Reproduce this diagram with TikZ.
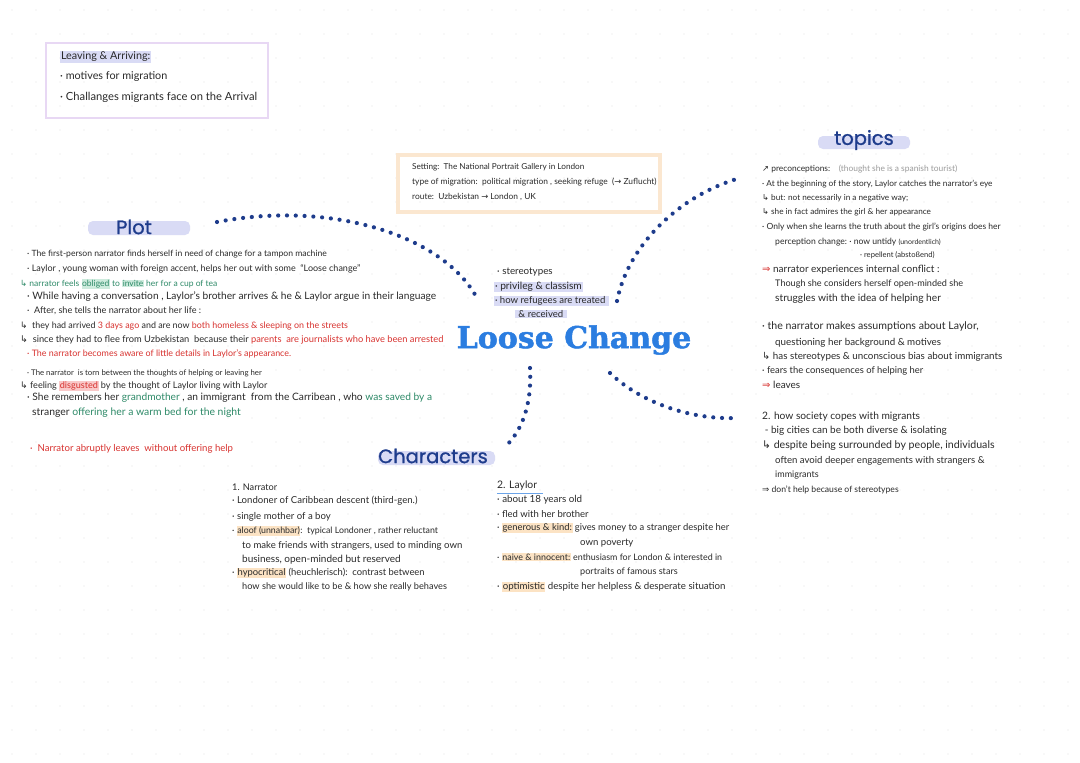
\documentclass[tikz,border=0pt]{standalone}
\usepackage{fontspec}
\setmainfont{Lato}
\newfontfamily\titlefont[FakeBold=1.6]{DejaVu Serif}
\newfontfamily\headfont[FakeBold=1]{Poppins}
\newfontfamily\symfont{DejaVu Sans}
\definecolor{ink}{HTML}{2A2A2A}
\definecolor{navy}{HTML}{1E3C8C}
\definecolor{titleblue}{HTML}{2B7DE0}
\definecolor{lav}{HTML}{D9DBF5}
\definecolor{lavbox}{HTML}{E8D8F4}
\definecolor{beige}{HTML}{FBE7D0}
\definecolor{hlorange}{HTML}{FCE3C4}
\definecolor{grn}{HTML}{2E8A68}
\definecolor{hlgreen}{HTML}{CDEBDD}
\definecolor{rd}{HTML}{D8322F}
\definecolor{hlred}{HTML}{F9C9C9}
\definecolor{gry}{HTML}{9A9A9A}
\newcommand\fs[1]{\fontsize{#1}{#1}\selectfont}
\newcommand\hk{{\symfont\char"21B3}}
\newcommand\dra{{\symfont\char"21D2}}
\newcommand\sra{{\symfont\char"2192}}
\newcommand\nea{{\symfont\char"2197}}
\newcommand\hlo[1]{{\setlength{\fboxsep}{0.6pt}\colorbox{hlorange}{#1}}}
\newcommand\hll[1]{{\setlength{\fboxsep}{0.8pt}\colorbox{lav}{#1}}}
\newcommand\hlg[1]{{\setlength{\fboxsep}{0.6pt}\colorbox{hlgreen}{#1}}}
\newcommand\hlr[1]{{\setlength{\fboxsep}{0.6pt}\colorbox{hlred}{#1}}}
\begin{document}
\begin{tikzpicture}[x=1pt,y=-1pt,
  txt/.style={anchor=west,inner sep=0pt,font=\fs{9},text=ink},
  head/.style={inner sep=0pt,font=\headfont\fontsize{19.5}{20}\selectfont,text=navy},
  bar/.style={fill=lav,rounded corners=5pt,draw=none},
  dots/.style={draw=navy,line width=4.2pt,line cap=round,dash pattern=on 0pt off 8.8pt}]
\useasboundingbox[fill=white] (0,0) rectangle (1080,763);
% faint dot grid
\foreach \i in {0,...,44}{\foreach \j in {0,...,31}{
  \fill[gray!22] (12+\i*24,10+\j*24) circle (0.6);}}
% ---- top-left box
\draw[lavbox,line width=2.4pt] (46,43) rectangle (268,118);
\node[txt,font=\fs{10.8}] (la) at (60,57) {\hll{Leaving \& Arriving:}};
\node[txt,font=\fs{10.8}] (lb) at (60,77) {\textperiodcentered\ motives for migration};
\node[txt,font=\fs{11.2}] (lc) at (60,97) {\textperiodcentered\ Challanges migrants face on the Arrival};
% ---- setting box
\draw[beige,line width=3.5pt] (398,155) rectangle (660,212);
\node[txt,font=\fs{8.2}] (sa) at (412,167) {Setting:\ \ The National Portrait Gallery in London};
\node[txt,font=\fs{8.4}] (sb) at (412,182) {type of migration:\ \ political migration , seeking refuge\ \ (\sra\ Zuflucht)};
\node[txt,font=\fs{8.4}] (sc) at (412,197) {route:\ \ Uzbekistan \sra\ London , UK};
% ---- title
\node[inner sep=0pt,font=\titlefont\bfseries\fontsize{30}{31}\selectfont,text=titleblue] (title) at (574,340) {Loose Change};
% ---- center list
\node[txt,font=\fs{9.8}] (ca) at (497,272) {\textperiodcentered\ stereotypes};
\node[txt,font=\fs{10.2}] (cb) at (494,287) {\hll{\textperiodcentered\ privileg \& classism}};
\node[txt,font=\fs{9.6}] (cc) at (494,301) {\hll{\textperiodcentered\ how refugees are treated\ }};
\node[txt,font=\fs{9.6}] (cd) at (515,314) {\hll{\ \& received\ }};
% ---- headings
\fill[bar] (88,221) rectangle (190,235);
\node[head] (plot) at (134,227) {Plot};
\fill[bar] (818,136) rectangle (910,149);
\node[head] (topics) at (864,140) {topics};
\fill[bar] (378,451) rectangle (495,465);
\node[head] (chars) at (433,456) {Characters};
% ---- connectors
\coordinate (p1) at (217,222);
\coordinate (p2) at (478,300);
\coordinate (t1) at (617,301);
\coordinate (t2) at (740,178);
\coordinate (c1) at (530,368);
\coordinate (c2) at (506,446);
\coordinate (r1) at (610,373);
\coordinate (r2) at (737,418);
\draw[dots] (p1) .. controls (330,200) and (445,235) .. (p2);
\draw[dots] (t1) .. controls (628,245) and (680,195) .. (t2);
\draw[dots] (c1) .. controls (532,405) and (522,430) .. (c2);
\draw[dots] (r1) .. controls (640,402) and (690,420) .. (r2);
% ---- plot text
\node[txt,font=\fs{8.6}] (pa) at (27,254) {\textperiodcentered\ The first-person narrator finds herself in need of change for a tampon machine};
\node[txt,font=\fs{9}] (pb) at (27,269) {\textperiodcentered\ Laylor\ , young woman with foreign accent, helps her out with some \ \textquotedblleft Loose change\textquotedblright};
\node[txt,font=\fs{8.5},text=grn] (pc) at (20,284) {\hk\ narrator feels \hlg{obliged} to \hlg{invite} her for a cup of tea};
\node[txt,font=\fs{10.2}] (pd) at (27,297) {\textperiodcentered\ While having a conversation , Laylor's brother arrives \& he \& Laylor argue in their language};
\node[txt,font=\fs{9.1}] (pe) at (27,311) {\textperiodcentered\ \ After, she tells the narrator about her life :};
\node[txt,font=\fs{8.9}] (pf) at (20,326) {\hk\ \ they had arrived \textcolor{rd}{3 days ago} and are now \textcolor{rd}{both homeless \& sleeping on the streets}};
\node[txt,font=\fs{9.3}] (pg) at (20,340) {\hk\ \ since they had to flee from Uzbekistan\ \ because their \textcolor{rd}{parents\ \ are journalists who have been arrested}};
\node[txt,font=\fs{8.9},text=rd] (ph) at (27,354) {\textperiodcentered\ The narrator becomes aware of little details in Laylor's appearance.};
\node[txt,font=\fs{7.8}] (pi) at (27,373) {\textperiodcentered\ The narrator\ \ is torn between the thoughts of helping or leaving her};
\node[txt,font=\fs{9.1}] (pj) at (20,386) {\hk\ feeling \hlr{\textcolor{rd}{disgusted}} by the thought of Laylor living with Laylor};
\node[txt,font=\fs{10.2}] (pk) at (27,398) {\textperiodcentered\ She remembers her \textcolor{grn}{grandmother} , an immigrant\ \ from the Carribean , who \textcolor{grn}{was saved by a}};
\node[txt,font=\fs{10.4}] (pl) at (32,413) {stranger \textcolor{grn}{offering her a warm bed for the night}};
\node[txt,font=\fs{9.6},text=rd] (pm) at (30,449) {\textperiodcentered\ \ Narrator abruptly leaves\ \ without offering help};
% ---- narrator column
\node[txt,font=\fs{9.2}] (na) at (232,487) {1. Narrator};
\node[txt,font=\fs{9.6}] (nb) at (232,501) {\textperiodcentered\ Londoner of Caribbean descent (third-gen.)};
\node[txt,font=\fs{9.6}] (nc) at (232,517) {\textperiodcentered\ single mother of a boy};
\node[txt,font=\fs{8.8}] (nd) at (232,531) {\textperiodcentered\ \hlo{aloof (unnahbar)}:\ \ typical Londoner , rather reluctant};
\node[txt,font=\fs{9.6}] (ne) at (242,546) {to make friends with strangers, used to minding own};
\node[txt,font=\fs{10}] (nf) at (242,560) {business,\ open-minded but reserved};
\node[txt,font=\fs{9.4}] (ng) at (232,573) {\textperiodcentered\ \hlo{hypocritical} (heuchlerisch):\ \ contrast between};
\node[txt,font=\fs{9.2}] (nh) at (242,587) {how she would like to be \& how she really behaves};
% ---- Laylor column
\node[txt,font=\fs{10.4}] (ya) at (497,486) {2. Laylor};
\draw[titleblue!70,line width=0.6pt] (ya.south west) ++(0,2) coordinate (u1) -- ++(46,0) coordinate (u2);
\node[txt,font=\fs{9.8}] (yb) at (497,500) {\textperiodcentered\ about 18 years old};
\node[txt,font=\fs{9.5}] (yc) at (497,514) {\textperiodcentered\ fled with her brother};
\node[txt,font=\fs{9.4}] (yd) at (497,528) {\textperiodcentered\ \hlo{generous \& kind:} gives money to a stranger despite her};
\node[txt,font=\fs{9.6}] (ye) at (580,543) {own poverty};
\node[txt,font=\fs{8.9}] (yf) at (497,557) {\textperiodcentered\ \hlo{naive \& innocent:} enthusiasm for London \& interested in};
\node[txt,font=\fs{9.1}] (yg) at (580,572) {portraits of famous stars};
\node[txt,font=\fs{9.7}] (yh) at (497,587) {\textperiodcentered\ \hlo{optimistic} despite her helpless \& desperate situation};
% ---- topics column
\node[txt,font=\fs{8.4}] (ta) at (762,169) {\nea\ preconceptions:\ \ \ \ \textcolor{gry}{(thought she is a spanish tourist)}};
\node[txt,font=\fs{8.3}] (tb) at (762,184) {\textperiodcentered\ At the beginning of the story, Laylor catches the narrator's eye};
\node[txt,font=\fs{8.2}] (tc) at (762,198) {\hk\ but: not necessarily in a negative way;};
\node[txt,font=\fs{8.2}] (td) at (762,212) {\hk\ she in fact admires the girl \& her appearance};
\node[txt,font=\fs{8.5}] (te) at (762,227) {\textperiodcentered\ Only when she learns the truth about the girl's origins does her};
\node[txt,font=\fs{8.6}] (tf) at (775,242) {perception change:\ \textperiodcentered\ now untidy {\fs{7}(unordentlich)}};
\node[txt,font=\fs{7.6}] (tg) at (860,255) {\textperiodcentered\ repellent (abstoßend)};
\node[txt,font=\fs{10}] (th) at (762,270) {\textcolor{rd}{\dra}\ narrator experiences internal conflict :};
\node[txt,font=\fs{9.1}] (ti) at (775,284) {Though she considers herself open-minded she};
\node[txt,font=\fs{10.2}] (tj) at (775,299) {struggles with the idea of helping her};
\node[txt,font=\fs{10.6}] (tk) at (762,327) {\textperiodcentered\ the narrator makes assumptions about Laylor,};
\node[txt,font=\fs{9.8}] (tl) at (775,343) {questioning her background \& motives};
\node[txt,font=\fs{9.8}] (tm) at (762,357) {\hk\ has stereotypes \& unconscious bias about immigrants};
\node[txt,font=\fs{9.4}] (tn) at (762,371) {\textperiodcentered\ fears the consequences of helping her};
\node[txt,font=\fs{10}] (to) at (762,385) {\textcolor{rd}{\dra}\ leaves};
\node[txt,font=\fs{10.2}] (tp) at (762,417) {2. how society copes with migrants};
\node[txt,font=\fs{10}] (tq) at (762,431) {\ - big cities can be both diverse \& isolating};
\node[txt,font=\fs{10.6}] (tr) at (762,446) {\hk\ despite being surrounded by people, individuals};
\node[txt,font=\fs{9.6}] (ts) at (775,461) {often avoid deeper engagements with strangers \&};
\node[txt,font=\fs{9}] (tt) at (775,475) {immigrants};
\node[txt,font=\fs{8.6}] (tu) at (762,490) {\dra\ don't help because of stereotypes};
\end{tikzpicture}
\end{document}
